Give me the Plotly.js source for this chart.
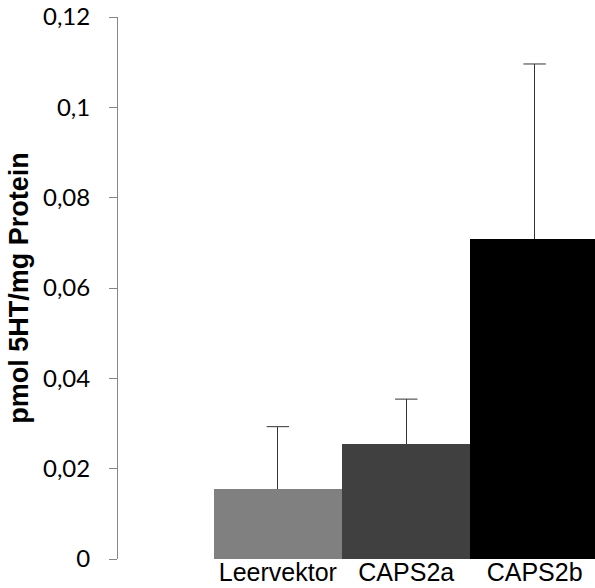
<!DOCTYPE html>
<html>
<head>
<meta charset="utf-8">
<script src="https://cdn.plot.ly/plotly-3.0.1.min.js"></script>
<style>html,body{margin:0;padding:0;background:#fff;}#chart{width:595px;height:588px;}</style>
</head>
<body>
<div id="chart"></div>
<script>
var categories = ['Leervektor', 'CAPS2a', 'CAPS2b'];
var values = [0.0155, 0.0255, 0.0709];
var errorsPlus = [0.0138, 0.0099, 0.0387];
var errorsMinus = [0, 0, 0];
var barColors = ['#808080', '#404040', '#000000'];
var yTickVals = [0, 0.02, 0.04, 0.06, 0.08, 0.1, 0.12];
var yTickText = ['0', '0,02', '0,04', '0,06', '0,08', '0,1', '0,12'];

var errTops = values.map(function (v, i) { return v + errorsPlus[i]; });

var barTrace = {
  type: 'bar',
  x: categories,
  y: values,
  marker: {color: barColors, line: {width: 0}},
  error_y: {
    type: 'data',
    symmetric: false,
    array: errorsPlus,
    arrayminus: errorsMinus,
    color: '#333333',
    thickness: 1,
    width: 0
  },
  hoverinfo: 'none'
};

var capTrace = {
  type: 'scatter',
  mode: 'markers',
  x: categories,
  y: errTops,
  marker: {symbol: 'line-ew', size: 16, color: '#333333', line: {color: '#333333', width: 1}},
  hoverinfo: 'none'
};

var layout = {
  width: 595,
  height: 588,
  margin: {l: 118, r: 0, t: 17, b: 29, pad: 0},
  paper_bgcolor: '#ffffff',
  plot_bgcolor: '#ffffff',
  bargap: 0,
  showlegend: false,
  separators: ', ',
  xaxis: {
    type: 'category',
    range: [-1.245, 2.47],
    showline: false,
    showgrid: false,
    zeroline: false,
    ticks: '',
    tickfont: {family: 'Liberation Sans, Arial, sans-serif', size: 25, color: '#000000'},
    ticklabelstandoff: -4
  },
  yaxis: {
    range: [0, 0.12],
    tickvals: yTickVals,
    ticktext: yTickText,
    showline: true,
    linecolor: '#868686',
    linewidth: 1,
    showgrid: false,
    zeroline: false,
    ticks: 'outside',
    ticklen: 8,
    tickwidth: 1,
    tickcolor: '#868686',
    ticklabelstandoff: 14,
    tickfont: {family: 'Lato, sans-serif', size: 24, color: '#000000'},
    title: {
      text: 'pmol 5HT/mg Protein',
      font: {family: 'Liberation Sans, Arial, sans-serif', size: 27, color: '#000000', weight: 'bold'},
      standoff: 6
    }
  }
};

Plotly.newPlot('chart', [barTrace, capTrace], layout, {displayModeBar: false, staticPlot: true});
</script>
</body>
</html>
